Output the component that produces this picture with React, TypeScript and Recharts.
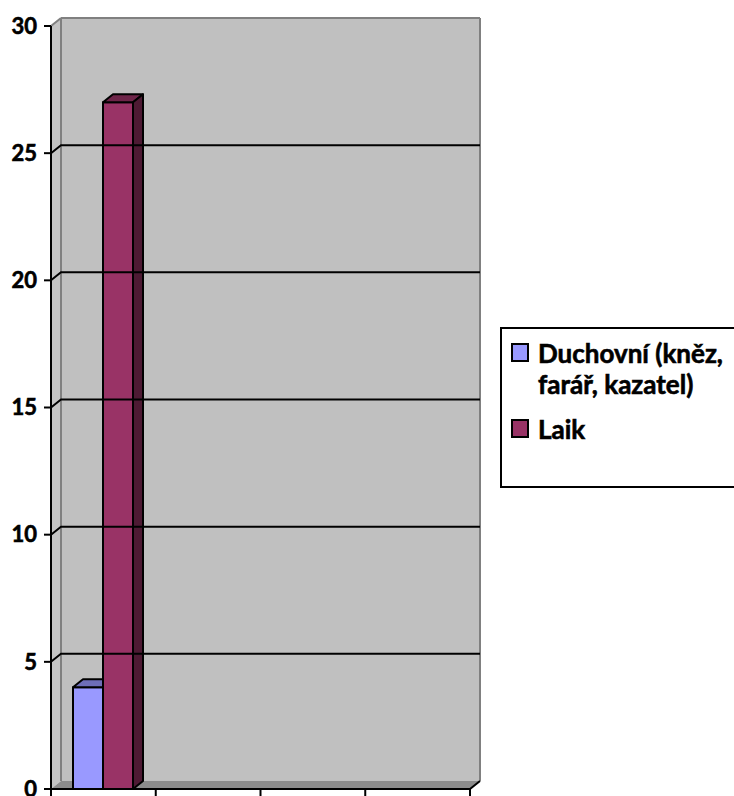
import React from 'react';
import {
  BarChart,
  Bar,
  XAxis,
  YAxis,
  ReferenceArea,
  ReferenceLine,
  Legend,
} from 'recharts';

const categories = ['1', '2', '3', '4'];
const duchovni = [4, null, null, null];
const laik = [27, null, null, null];
const seriesNames = ['Duchovní (kněz, farář, kazatel)', 'Laik'];
const seriesColors = ['#9999FF', '#993366'];
const yTicks = [0, 5, 10, 15, 20, 25, 30];
const gridValues = [5, 10, 15, 20, 25];

const data = categories.map((cat, i) => ({
  cat,
  duchovni: duchovni[i],
  laik: laik[i],
}));

const FONT = 'Lato, "Open Sans", sans-serif';
const DX = 10;
const DY = 8;

function shade(hex: string, k: number) {
  const n = parseInt(hex.slice(1), 16);
  const r = Math.round(((n >> 16) & 255) * k);
  const g = Math.round(((n >> 8) & 255) * k);
  const b = Math.round((n & 255) * k);
  return `rgb(${r},${g},${b})`;
}

const Bar3D = (props: any) => {
  const { x, y, width, height, fill } = props;
  if (!height || height <= 0) return null;
  const top = `${x},${y} ${x + DX},${y - DY} ${x + width + DX},${y - DY} ${x + width},${y}`;
  const side = `${x + width},${y} ${x + width + DX},${y - DY} ${x + width + DX},${y + height - DY} ${x + width},${y + height}`;
  return (
    <g stroke="#000" strokeWidth={2} strokeLinejoin="round">
      <rect x={x} y={y} width={width} height={height} fill={fill} />
      <polygon points={top} fill={shade(fill, 0.72)} />
      <polygon points={side} fill={shade(fill, 0.5)} />
    </g>
  );
};

const Wall = (props: any) => {
  const { x, y, width, height } = props;
  const b = y + height;
  return (
    <g>
      <rect x={x + DX} y={y - DY} width={width} height={height} fill="#C0C0C0" />
      <polygon
        points={`${x},${y} ${x + DX},${y - DY} ${x + DX},${b - DY} ${x},${b}`}
        fill="#C4C4C4"
      />
      <polygon
        points={`${x},${b} ${x + DX},${b - DY} ${x + width + DX},${b - DY} ${x + width},${b}`}
        fill="#8C8C8C"
      />
      <line x1={x + DX} y1={y - DY} x2={x + width + DX} y2={y - DY} stroke="#808080" strokeWidth={2} />
      <line x1={x + width + DX} y1={y - DY} x2={x + width + DX} y2={b - DY} stroke="#808080" strokeWidth={2} />
      <line x1={x + DX} y1={y - DY} x2={x + DX} y2={b - DY} stroke="#808080" strokeWidth={2} />
      <line x1={x} y1={y} x2={x + DX} y2={y - DY} stroke="#808080" strokeWidth={2} />
      <line x1={x + width} y1={b} x2={x + width + DX} y2={b - DY} stroke="#000" strokeWidth={2} />
    </g>
  );
};

const GridLine = (props: any) => {
  const { x1, y1, x2 } = props;
  return (
    <polyline
      points={`${x1},${y1} ${x1 + DX},${y1 - DY} ${x2 + DX},${y1 - DY}`}
      stroke="#000"
      strokeWidth={2}
      fill="none"
    />
  );
};

const XTick = (props: any) => {
  const { x, y, payload, index } = props;
  const off = payload?.offset ?? 0;
  return (
    <g stroke="#000" strokeWidth={2}>
      <line x1={x - off} y1={y} x2={x - off} y2={y + 7} />
      {index === categories.length - 1 && <line x1={x + off} y1={y} x2={x + off} y2={y + 7} />}
    </g>
  );
};

const LegendBox = () => (
  <div
    style={{
      width: 234,
      height: 161,
      border: '2px solid #000',
      borderRight: 'none',
      background: '#fff',
      fontFamily: FONT,
      fontWeight: 700,
      fontSize: 26,
      color: '#000',
      WebkitTextStroke: '0.6px #000',
      boxSizing: 'border-box',
      padding: '9px 0 0 9px',
      lineHeight: '31px',
      textAlign: 'left',
    }}
  >
    {seriesNames.map((name, i) => (
      <div key={name} style={{ display: 'flex', alignItems: 'flex-start', marginBottom: 14 }}>
        <span
          style={{
            flex: '0 0 auto',
            width: 18,
            height: 19,
            marginTop: 5,
            marginRight: 9,
            background: seriesColors[i],
            border: '2px solid #000',
            boxSizing: 'border-box',
          }}
        />
        <span style={{ width: 210, whiteSpace: 'nowrap' }}>
          {i === 0 ? (
            <>
              Duchovní (kněz,
              <br />
              farář, kazatel)
            </>
          ) : (
            name
          )}
        </span>
      </div>
    ))}
  </div>
);

export default function App() {
  return (
    <div
      style={{
        position: 'absolute',
        left: 0,
        top: 0,
        width: 734,
        height: 796,
        overflow: 'hidden',
        background: '#fff',
      }}
    >
      <BarChart
        width={734}
        height={796}
        data={data}
        margin={{ top: 26, right: 30, bottom: 0, left: 8 }}
        barGap={0}
      >
        <ReferenceArea y1={0} y2={30} shape={<Wall />} ifOverflow="visible" />
        {gridValues.map((v) => (
          <ReferenceLine key={v} y={v} shape={(p: any) => <GridLine {...p} />} ifOverflow="visible" />
        ))}
        <XAxis
          dataKey="cat"
          height={7}
          tickSize={0}
          tickMargin={0}
          axisLine={{ stroke: '#000', strokeWidth: 2 }}
          tick={<XTick />}
          interval={0}
        />
        <YAxis
          width={43}
          domain={[0, 30]}
          ticks={yTicks}
          interval={0}
          tickSize={7}
          tickMargin={7}
          axisLine={{ stroke: '#000', strokeWidth: 2 }}
          tickLine={{ stroke: '#000', strokeWidth: 2 }}
          tick={{
            fontFamily: FONT,
            fontWeight: 700,
            fontSize: 22,
            fill: '#000',
            stroke: '#000',
            strokeWidth: 0.6,
          }}
        />
        <Legend
          layout="vertical"
          align="right"
          verticalAlign="middle"
          width={234}
          content={<LegendBox />}
          wrapperStyle={{ position: 'absolute', left: 500, top: 327, width: 234 }}
        />
        <Bar
          dataKey="duchovni"
          name={seriesNames[0]}
          fill={seriesColors[0]}
          barSize={30}
          shape={<Bar3D />}
          isAnimationActive={false}
        />
        <Bar
          dataKey="laik"
          name={seriesNames[1]}
          fill={seriesColors[1]}
          barSize={30}
          shape={<Bar3D />}
          isAnimationActive={false}
        />
      </BarChart>
    </div>
  );
}
